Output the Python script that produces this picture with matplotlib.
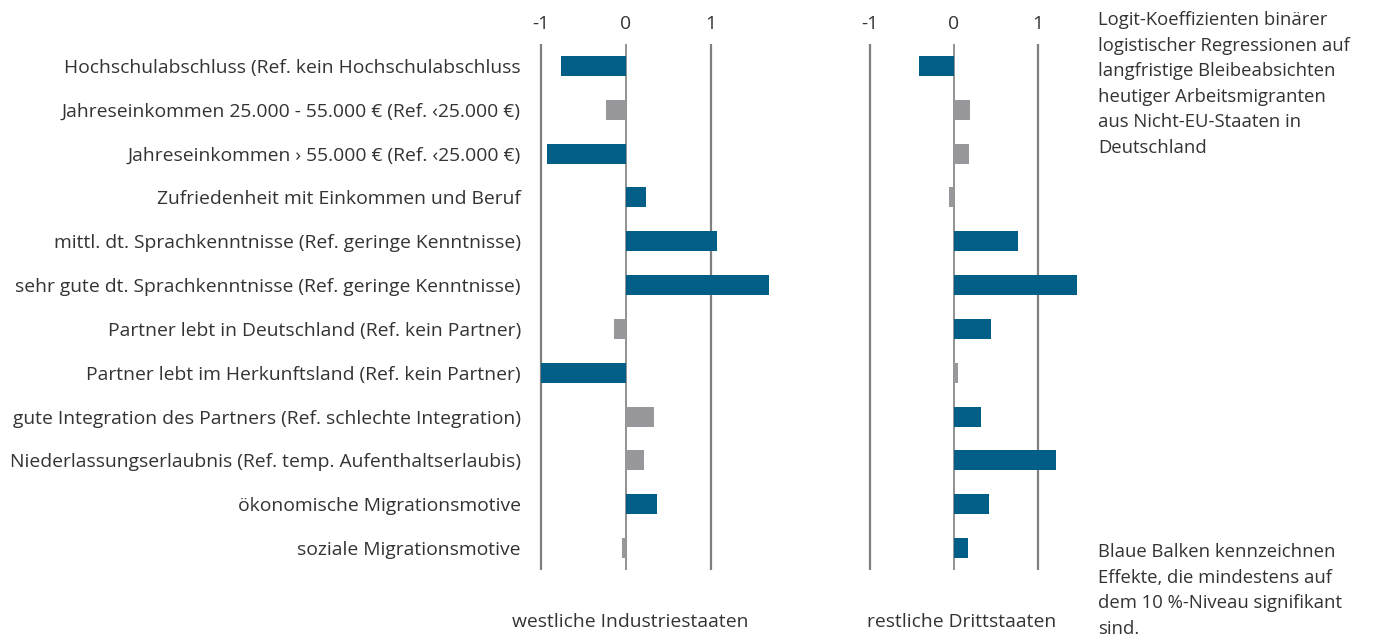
import matplotlib
matplotlib.use("Agg")
import matplotlib.pyplot as plt

plt.rcParams['font.family'] = ['Open Sans', 'DejaVu Sans']

labels = ['Hochschulabschluss (Ref. kein Hochschulabschluss',
          'Jahreseinkommen 25.000 - 55.000 € (Ref. ‹25.000 €)',
          'Jahreseinkommen › 55.000 € (Ref. ‹25.000 €)',
          'Zufriedenheit mit Einkommen und Beruf',
          'mittl. dt. Sprachkenntnisse (Ref. geringe Kenntnisse)',
          'sehr gute dt. Sprachkenntnisse (Ref. geringe Kenntnisse)',
          'Partner lebt in Deutschland (Ref. kein Partner)',
          'Partner lebt im Herkunftsland (Ref. kein Partner)',
          'gute Integration des Partners (Ref. schlechte Integration)',
          'Niederlassungserlaubnis (Ref. temp. Aufenthaltserlaubis)',
          'ökonomische Migrationsmotive',
          'soziale Migrationsmotive']

# westliche Industriestaaten
west = [-0.76, -0.23, -0.93, 0.24, 1.07, 1.69, -0.14, -1.0, 0.33, 0.22, 0.37, -0.04]
west_sig = [1, 0, 1, 1, 1, 1, 0, 1, 0, 0, 1, 0]

# restliche Drittstaaten
rest = [-0.41, 0.19, 0.18, -0.06, 0.77, 1.47, 0.44, 0.05, 0.33, 1.22, 0.42, 0.17]
rest_sig = [1, 0, 0, 0, 1, 1, 1, 0, 1, 1, 1, 1]

ticks = [-1, 0, 1]
blue = '#005e87'
grey = '#98989c'
txt = '#333333'
fs = 13.9

fig = plt.figure(figsize=(13.79, 6.35), dpi=100)

bottom = 1 - 570 / 635
height = (570 - 44) / 635
ax1 = fig.add_axes([536.5 / 1379, bottom, 238 / 1379, height])
ax2 = fig.add_axes([865.5 / 1379, bottom, 214.2 / 1379, height])

y = list(range(len(labels)))

for ax, vals, sig, xl in [(ax1, west, west_sig, (-1.05, 1.75)),
                          (ax2, rest, rest_sig, (-1.05, 1.5))]:
    for t in ticks:
        ax.axvline(t, color='#7f7f7f', lw=1.6 if t != 0 else 1.2, zorder=1)
    cols = [blue if s else grey for s in sig]
    ax.barh(y, vals, height=0.46, color=cols, zorder=2)
    ax.set_xlim(*xl)
    ax.set_ylim(len(labels) - 0.5, -0.5)
    ax.xaxis.tick_top()
    ax.set_xticks(ticks)
    ax.set_xticklabels(['-1', '0', '1'])
    ax.tick_params(axis='x', length=0, pad=8, labelsize=fs, labelcolor=txt)
    for s in ax.spines.values():
        s.set_visible(False)

ax1.set_yticks(y)
ax1.set_yticklabels(labels)
ax1.tick_params(axis='y', length=0, pad=11.2, labelsize=fs, labelcolor=txt)
ax2.set_yticks([])

fig.text(630 / 1379, 1 - 622 / 635, 'westliche Industriestaaten', ha='center',
         va='center', fontsize=fs, color=txt)
fig.text(962 / 1379, 1 - 622 / 635, 'restliche Drittstaaten', ha='center',
         va='center', fontsize=fs, color=txt)

fig.text(1098 / 1379, 1 - 11 / 635,
         'Logit-Koeffizienten binärer\nlogistischer Regressionen auf\n'
         'langfristige Bleibeabsichten\nheutiger Arbeitsmigranten\n'
         'aus Nicht-EU-Staaten in\nDeutschland',
         ha='left', va='top', fontsize=13.3, color=txt, linespacing=1.54)
fig.text(1098 / 1379, 1 - 543 / 635,
         'Blaue Balken kennzeichnen\nEffekte, die mindestens auf\n'
         'dem 10 %-Niveau signifikant\nsind.',
         ha='left', va='top', fontsize=13.3, color=txt, linespacing=1.54)

fig.savefig('out.png', dpi=100)
